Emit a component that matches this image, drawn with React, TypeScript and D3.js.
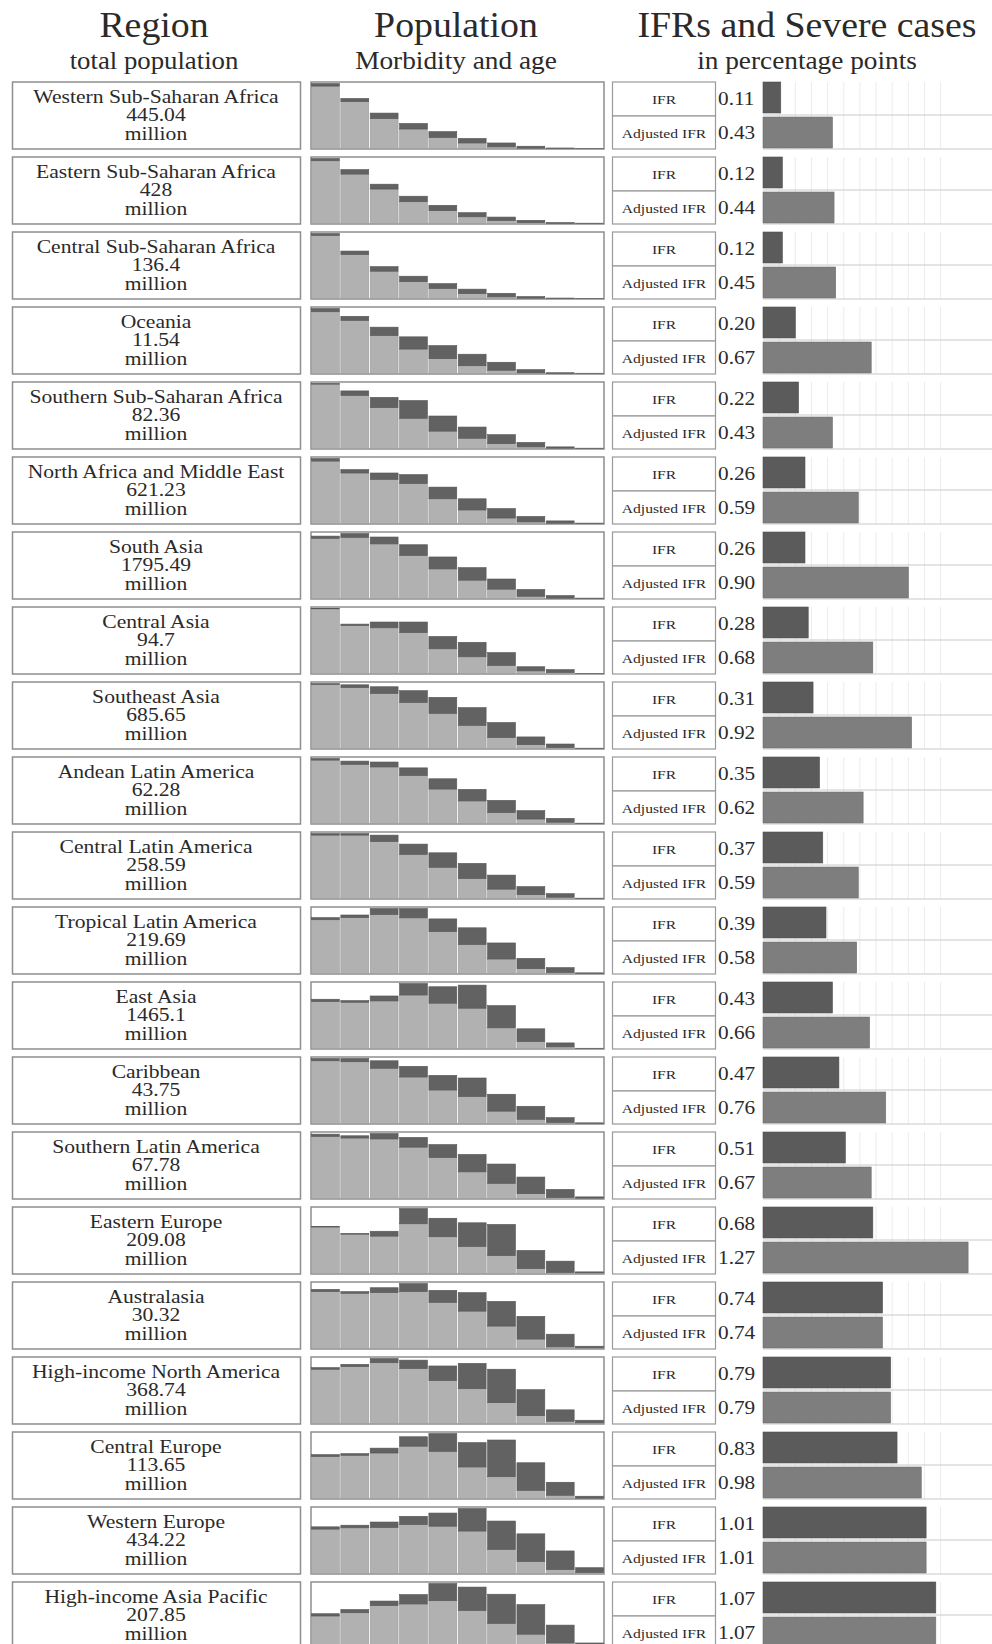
import React from "react";
import * as d3 from "d3";

const regions = [
  "Western Sub-Saharan Africa",
  "Eastern Sub-Saharan Africa",
  "Central Sub-Saharan Africa",
  "Oceania",
  "Southern Sub-Saharan Africa",
  "North Africa and Middle East",
  "South Asia",
  "Central Asia",
  "Southeast Asia",
  "Andean Latin America",
  "Central Latin America",
  "Tropical Latin America",
  "East Asia",
  "Caribbean",
  "Southern Latin America",
  "Eastern Europe",
  "Australasia",
  "High-income North America",
  "Central Europe",
  "Western Europe",
  "High-income Asia Pacific",
];

const populations = [
  "445.04", "428", "136.4", "11.54", "82.36", "621.23", "1795.49", "94.7", "685.65", "62.28",
  "258.59", "219.69", "1465.1", "43.75", "67.78", "209.08", "30.32", "368.74", "113.65", "434.22", "207.85",
];

const ifr = [0.11, 0.12, 0.12, 0.2, 0.22, 0.26, 0.26, 0.28, 0.31, 0.35, 0.37, 0.39, 0.43, 0.47, 0.51, 0.68, 0.74, 0.79, 0.83, 1.01, 1.07];
const adjustedIfr = [0.43, 0.44, 0.45, 0.67, 0.43, 0.59, 0.9, 0.68, 0.92, 0.62, 0.59, 0.58, 0.66, 0.76, 0.67, 1.27, 0.74, 0.79, 0.98, 1.01, 1.07];

const ageGroups = ["0-9", "10-19", "20-29", "30-39", "40-49", "50-59", "60-69", "70-79", "80-89", "90+"];

// total bar height per age group (population, relative)
const ageTotal = [
  [100, 77, 54.5, 38.5, 26, 15.5, 8.5, 3.5, 0.8, 0.3],
  [100, 83, 60.5, 42, 28, 16.7, 9.9, 4.9, 1.5, 0.5],
  [100, 73, 49, 34.3, 22.9, 14.4, 8, 3, 0.7, 0.3],
  [100, 88, 71.3, 56.4, 43, 29.7, 17.3, 6, 1.2, 0.4],
  [100, 88.6, 78.7, 73.8, 50, 33, 21.3, 9.4, 2.5, 0.5],
  [100, 83, 77.7, 75.2, 56, 38, 23, 10.9, 4, 0.6],
  [96, 100, 94.6, 82.7, 63.9, 47.5, 30, 13.9, 4.5, 0.6],
  [100, 76, 79.2, 79.2, 57, 48, 32.2, 10.4, 6, 0.3],
  [100, 98, 95, 89, 78.7, 62.9, 40, 17.8, 6.9, 0.5],
  [100, 96, 94.6, 85.6, 68.8, 52.5, 35.6, 19.8, 7.9, 0.5],
  [100, 100, 97.5, 83.7, 70.3, 54, 36, 18.3, 7.4, 0.5],
  [86, 90, 100, 100, 84, 70.3, 47, 23.3, 9, 1],
  [75.8, 73.7, 80.8, 100, 95, 97.5, 66, 30.3, 8.6, 0.4],
  [100, 100, 96.5, 88, 74, 70, 45, 26.5, 9, 1],
  [99, 96.5, 100, 94, 83, 67.8, 53, 33, 14, 2.5],
  [72.5, 61.5, 65, 100, 85, 78, 75.5, 35.5, 19, 2.5],
  [91, 87.5, 93.5, 100, 89.5, 86, 72.5, 49.5, 22, 3.5],
  [86, 91, 100, 97.5, 88.5, 92.5, 83.5, 52, 21, 5],
  [67.5, 69, 77.5, 95, 100, 86, 90, 55, 25, 3.5],
  [71.8, 74.3, 79.2, 88, 93, 100, 80.7, 61, 34.7, 8.9],
  [53.5, 60, 73, 83, 100, 94.5, 83.5, 67.5, 36, 8.5],
];

// light grey part (without morbidity) per age group
const ageHealthy = [
  [96, 72, 46, 30, 17, 8.5, 2.5, 0.5, 0, 0],
  [96.5, 76, 53, 33.5, 19.7, 10.3, 4.4, 1.5, 0.3, 0],
  [97, 67.7, 42, 25.9, 15.4, 7.5, 2.5, 0.5, 0, 0],
  [95, 81.7, 58.4, 37.6, 22.8, 11.9, 5, 1, 0, 0],
  [99, 81.7, 62.9, 46.5, 26.7, 15.8, 7.4, 2.5, 0.5, 0],
  [96, 77.7, 67.8, 61.4, 38, 20.8, 8.4, 2.5, 0.5, 0],
  [92.6, 94, 84, 66.3, 45.5, 28.2, 14.4, 3.5, 0.5, 0],
  [99.5, 73.8, 70.3, 62.9, 38, 25.7, 12.4, 4, 1.5, 0],
  [98.5, 93.6, 84.7, 70.8, 54, 35.6, 16.8, 5.9, 1.5, 0],
  [97.5, 91, 87, 73.8, 53, 34.7, 16.8, 6.9, 2, 0],
  [97.5, 97.5, 87.6, 67.8, 48, 30.7, 14.4, 5.9, 2, 0],
  [82.7, 86, 90.6, 85.6, 64.4, 44.6, 22.3, 7.4, 1.5, 0],
  [72.2, 71.2, 73.2, 82.3, 69.7, 62, 31.8, 10.6, 2.5, 0],
  [96.5, 95, 85, 71.5, 51.5, 41.5, 19, 6.5, 1.5, 0],
  [95.5, 93, 91.6, 79, 63, 41, 23.3, 7.4, 1.5, 0.5],
  [71.5, 60.5, 57.5, 76.5, 56.5, 41.5, 27.5, 7.5, 1.5, 1],
  [87.5, 85, 86, 87.5, 71, 57.5, 34.5, 14.5, 2.5, 1],
  [83.5, 87.5, 93.5, 84.5, 66, 53.5, 32, 12, 3.5, 1],
  [64.5, 66.5, 70, 80.5, 72.5, 48.5, 33.5, 12.5, 5, 0.5],
  [68.3, 70.3, 70.8, 75.2, 72.8, 65.3, 37, 18.3, 5.9, 1.5],
  [50, 55, 66, 68.5, 73.5, 58.5, 38.5, 22, 8.5, 2],
];

const ifrGrid = [0.1, 0.2, 0.3, 0.4, 0.5, 0.6, 0.7, 0.8, 0.9, 1.0, 1.1];

const FONT = "'Liberation Serif', 'Times New Roman', serif";
const TXT = "#2a2a2a";

function SText({ x, y, size, sx = 1, anchor = "middle", children, fill = TXT }: any) {
  return (
    <text
      transform={`translate(${x},${y}) scale(${sx},1)`}
      fontSize={size}
      textAnchor={anchor}
      fontFamily={FONT}
      fill={fill}
    >
      {children}
    </text>
  );
}

export default function App() {
  const W = 992;
  const HH = 1644;
  const row0 = 82;
  const pitch = 75;
  const boxH = 67;

  const rowY = d3.scaleLinear().domain([0, 1]).range([row0, row0 + pitch]);

  const popX0 = 311;
  const popX1 = 604;
  const xBand = d3.scaleBand().domain(ageGroups).range([popX0 + 0.5, popX1 - 0.5]).paddingInner(0.05);

  const barX0 = 763;
  const xIfr = d3.scaleLinear().domain([0, 1]).range([barX0, barX0 + 161.5]);

  return (
    <svg
      width={W}
      height={HH}
      style={{ position: "absolute", left: 0, top: 0, background: "#fff" }}
    >
      <rect x={0} y={0} width={W} height={HH} fill="#fff" />
      {/* headers */}
      <SText x={154} y={37} size={36} sx={1.05}>Region</SText>
      <SText x={456} y={37} size={36} sx={1.05}>Population</SText>
      <SText x={807} y={37} size={36} sx={1.05}>IFRs and Severe cases</SText>
      <SText x={154} y={69} size={26} sx={1.03}>total population</SText>
      <SText x={456} y={69} size={26} sx={1.05}>Morbidity and age</SText>
      <SText x={807} y={69} size={26} sx={1.05}>in percentage points</SText>

      {regions.map((name, i) => {
        const top = rowY(i);
        const bottom = top + boxH;
        const totals = ageTotal[i];
        const healthy = ageHealthy[i];
        const yPop = d3
          .scaleLinear()
          .domain([0, d3.max(totals) as number])
          .range([bottom - 0.5, top + 1.5]);
        const stackData = ageGroups.map((g, k) => ({
          group: g,
          light: healthy[k],
          dark: Math.max(0, totals[k] - healthy[k]),
        }));
        const series = d3.stack<any>().keys(["light", "dark"])(stackData);
        const ifrTop = top;
        const ifrBottom = top + 31;
        const adjTop = top + 35;
        const adjBottom = top + 66;
        return (
          <g key={name}>
            {/* region box */}
            <rect x={12.5} y={top} width={288} height={boxH} fill="#fff" stroke="#8e8e8e" strokeWidth={1.5} />
            <SText x={156} y={top + 20.5} size={18} sx={1.2}>{name}</SText>
            <SText x={156} y={top + 39} size={18} sx={1.2}>{populations[i]}</SText>
            <SText x={156} y={top + 58} size={18} sx={1.2}>million</SText>

            {/* population panel */}
            <rect x={popX0} y={top} width={popX1 - popX0} height={boxH} fill="#fff" stroke="#8e8e8e" strokeWidth={1.5} />
            {series.map((s) =>
              s.map((d: any, k: number) => {
                const h = yPop(d[0]) - yPop(d[1]);
                if (h <= 0) return null;
                return (
                  <rect
                    key={s.key + k}
                    x={xBand(ageGroups[k])}
                    y={yPop(d[1])}
                    width={xBand.bandwidth()}
                    height={h}
                    fill={s.key === "light" ? "#b1b1b1" : "#626262"}
                    stroke={s.key === "light" ? "#9a9a9a" : "#555"}
                    strokeWidth={0.6}
                  />
                );
              })
            )}

            {/* IFR label cells */}
            <rect x={612.5} y={top} width={103} height={34} fill="#fff" stroke="#9a9a9a" strokeWidth={1.2} />
            <rect x={612.5} y={top + 34} width={103} height={33} fill="#fff" stroke="#9a9a9a" strokeWidth={1.2} />
            <SText x={664} y={top + 21.5} size={13} sx={1.2}>IFR</SText>
            <SText x={664} y={top + 55.5} size={13} sx={1.2}>Adjusted IFR</SText>

            {/* values */}
            <SText x={718} y={top + 23} size={19} sx={1.12} anchor="start">{ifr[i].toFixed(2)}</SText>
            <SText x={718} y={top + 56.5} size={19} sx={1.12} anchor="start">{adjustedIfr[i].toFixed(2)}</SText>

            {/* grid */}
            {ifrGrid.map((t) => (
              <line key={t} x1={xIfr(t)} x2={xIfr(t)} y1={top} y2={top + 67} stroke="#ececec" strokeWidth={1} />
            ))}
            <line x1={barX0} x2={W} y1={top + 33} y2={top + 33} stroke="#c9c9c9" strokeWidth={1.2} />
            <line x1={barX0} x2={W} y1={top + 67} y2={top + 67} stroke="#c9c9c9" strokeWidth={1.2} />

            {/* bars */}
            <rect x={barX0} y={ifrTop} width={xIfr(ifr[i]) - barX0} height={ifrBottom - ifrTop} fill="#5b5b5b" stroke="#505050" strokeWidth={0.6} />
            <rect x={barX0} y={adjTop} width={xIfr(adjustedIfr[i]) - barX0} height={adjBottom - adjTop} fill="#7e7e7e" stroke="#707070" strokeWidth={0.6} />
          </g>
        );
      })}
    </svg>
  );
}
